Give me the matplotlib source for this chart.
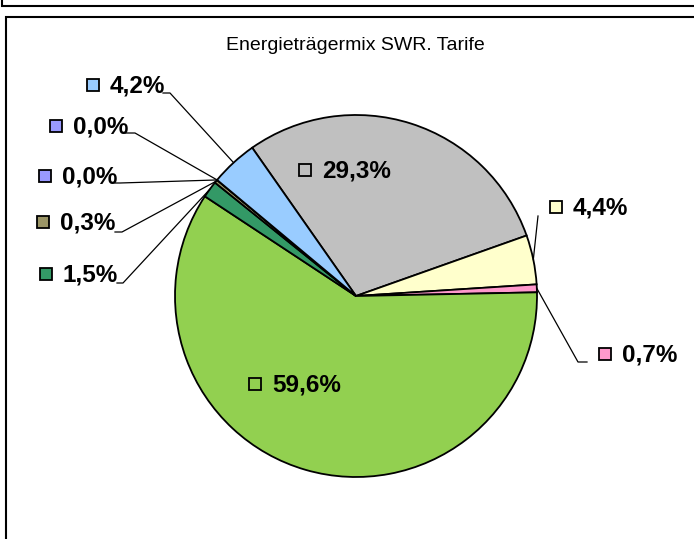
import matplotlib
matplotlib.use("Agg")
import matplotlib.pyplot as plt
import numpy as np

plt.rcParams['font.family'] = ['Liberation Sans', 'DejaVu Sans']

title = "Energieträgermix SWR. Tarife"
values = [29.3, 4.4, 0.7, 59.6, 1.5, 0.3, 0.0, 0.0, 4.2]
colors = ["#C0C0C0", "#FFFFCC", "#FF99CC", "#92D050", "#339966",
          "#9B9566", "#9999FF", "#9999FF", "#99CCFF"]
# label placement (pixel coords): text left x, text center y
label_pos = [(322, 171), (573, 208), (622, 355), (272, 385), (63, 275),
             (60, 223), (62, 177), (73, 127), (110, 86)]
# leader line start (pixel coords) and elbow (None = no leader)
leader_start = [None, (538, 216), (587, 362), None, (117, 283),
                (115, 232), (115, 183), (125, 133), (163, 93)]
leader_elbow = [None, None, (578, 362), None, (123, 283),
                (122, 232), (120, 183), (135, 133), (170, 93)]

W, H = 694, 539
fig = plt.figure(figsize=(W / 100, H / 100), dpi=100)
fig.patch.set_facecolor("white")

cx, cy, r = 356, 296, 181
ax = fig.add_axes([(cx - r) / W, (H - cy - r) / H, 2 * r / W, 2 * r / H])
plot_vals = [v if v > 0 else 1e-9 for v in values]
wedges, _ = ax.pie(plot_vals, colors=colors, startangle=125, counterclock=False,
                   wedgeprops=dict(edgecolor="black", linewidth=1.3))
ax.set_xlim(-1, 1)
ax.set_ylim(-1, 1)
ax.set_aspect('auto')
ax.axis('off')

ov = fig.add_axes([0, 0, 1, 1], zorder=5)
ov.set_xlim(0, W)
ov.set_ylim(H, 0)
ov.axis('off')
ov.patch.set_alpha(0)

# frames
ov.plot([2, 2, W], [0, 5.5, 5.5], color="black", lw=1.5, solid_joinstyle='miter')
ov.plot([6.5, 6.5, W], [H, 16.5, 16.5], color="black", lw=1.5, solid_joinstyle='miter')

ov.text(355, 46, title, ha="center", va="center", fontsize=14)

to_ov = ov.transData.inverted()
for i, (v, w) in enumerate(zip(values, wedges)):
    txt = f"{v:.1f}%".replace('.', ',')
    tx, ty = label_pos[i]
    ov.text(tx, ty, txt, ha="left", va="center", fontsize=17.5, fontweight="bold")
    ov.plot([tx - 17], [ty - 1], marker="s", markersize=9, markerfacecolor=colors[i],
            markeredgecolor="black", markeredgewidth=1.3, linestyle="none")
    if leader_start[i] is not None:
        th = np.deg2rad((w.theta1 + w.theta2) / 2)
        px, py = to_ov.transform(ax.transData.transform((np.cos(th), np.sin(th))))
        xs = [leader_start[i][0]]
        ys = [leader_start[i][1]]
        if leader_elbow[i] is not None:
            xs.append(leader_elbow[i][0]); ys.append(leader_elbow[i][1])
        xs.append(px); ys.append(py)
        ov.plot(xs, ys, color="black", lw=0.9)

fig.savefig("out.png", dpi=100)
